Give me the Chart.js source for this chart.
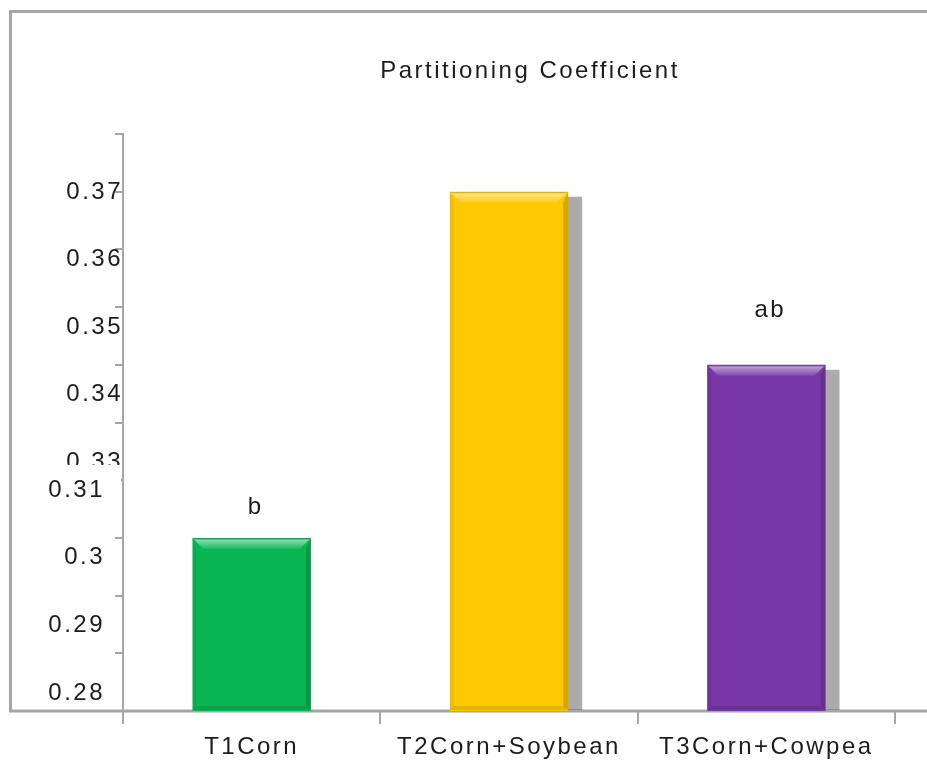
<!DOCTYPE html>
<html>
<head>
<meta charset="utf-8">
<script src="https://cdn.jsdelivr.net/npm/chart.js@4.4.1/dist/chart.umd.min.js"></script>
<style>
  html, body { margin: 0; padding: 0; background: #fff; }
  canvas { display: block; }
</style>
</head>
<body>
<canvas id="chart" width="927" height="767"></canvas>
<script>
// ---- data ----
const categories = ['T1Corn', 'T2Corn+Soybean', 'T3Corn+Cowpea'];
const coefficient = [0.31, 0.37, 0.34];
const groupLetters = ['b', '', 'ab'];
const upperTickLabels = [0.37, 0.36, 0.35, 0.34, 0.33];
const lowerTickLabels = [0.31, 0.3, 0.29, 0.28];
const chartTitle = 'Partitioning Coefficient';

// ---- styling ----
const barColors = ['#08b654', '#ffc800', '#7838a8'];
const castsShadow = [false, true, true];
const letterLift = [31, 0, 54];
const lineGray = '#a6a6a6';
const textColor = '#1c1c1c';
const FONT = '"Liberation Sans", Arial, sans-serif';
const FONT_SIZE = 24;
const SPACING = '2.5px';
const UPPER_LABEL_X = 123;
const LOWER_LABEL_X = 105;

Chart.defaults.font.family = FONT;
Chart.defaults.font.size = FONT_SIZE;
Chart.defaults.color = textColor;

// wide letter spacing for every piece of canvas text
const spacingPlugin = {
  id: 'spacing',
  beforeUpdate(chart) { chart.ctx.letterSpacing = SPACING; },
  beforeDraw(chart) { chart.ctx.letterSpacing = SPACING; }
};

// white page, outer frame and title
const framePlugin = {
  id: 'frame',
  beforeDraw(chart) {
    const { ctx, width, chartArea } = chart;
    ctx.save();
    ctx.fillStyle = '#fff';
    ctx.fillRect(0, 0, width, chart.height);
    ctx.strokeStyle = lineGray;
    ctx.lineWidth = 3;
    ctx.beginPath();
    ctx.moveTo(width + 5, 11.5);
    ctx.lineTo(10.5, 11.5);
    ctx.lineTo(10.5, chartArea.bottom);
    ctx.lineTo(width + 5, chartArea.bottom);
    ctx.stroke();
    ctx.restore();
  },
  afterDraw(chart) {
    const { ctx } = chart;
    ctx.save();
    ctx.letterSpacing = SPACING;
    ctx.font = FONT_SIZE + 'px ' + FONT;
    ctx.fillStyle = textColor;
    ctx.textAlign = 'center';
    ctx.textBaseline = 'middle';
    ctx.fillText(chartTitle, 530, 71);
    ctx.restore();
  }
};

// value labels of the two left label columns, placed through their scales
const axisLabelPlugin = {
  id: 'axisLabels',
  beforeDatasetsDraw(chart) {
    const { ctx } = chart;
    const up = chart.scales.yUpper, lo = chart.scales.yLower;
    ctx.save();
    ctx.letterSpacing = SPACING;
    ctx.font = FONT_SIZE + 'px ' + FONT;
    ctx.textAlign = 'right';
    ctx.textBaseline = 'middle';
    ctx.fillStyle = textColor;
    upperTickLabels.forEach(v => ctx.fillText(String(v), UPPER_LABEL_X, up.getPixelForValue(v)));
    // the lower column sits on a white block that overlaps the upper one
    const y0 = lo.getPixelForValue(lowerTickLabels[0]);
    ctx.fillStyle = '#fff';
    ctx.fillRect(LOWER_LABEL_X - 66, y0 - 25, 82, 37);
    ctx.fillStyle = textColor;
    lowerTickLabels.forEach(v => ctx.fillText(String(v), LOWER_LABEL_X, lo.getPixelForValue(v)));
    ctx.restore();
  }
};

// drop shadows behind the bars, bevel facets on top of them, group letters
const barDecor = {
  id: 'barDecor',
  beforeDatasetsDraw(chart) {
    const { ctx, chartArea } = chart;
    const bars = chart.getDatasetMeta(0).data;
    ctx.save();
    ctx.fillStyle = 'rgba(0,0,0,0.33)';
    bars.forEach((bar, i) => {
      if (!castsShadow[i]) return;
      const { x, y, base, width } = bar.getProps(['x', 'y', 'base', 'width'], true);
      const B = Math.min(base, chartArea.bottom) - 1;
      ctx.fillRect(x - width / 2 + 14, y + 5, width, B - y - 5);
    });
    ctx.restore();
  },
  afterDatasetsDraw(chart) {
    const { ctx, chartArea } = chart;
    const bars = chart.getDatasetMeta(0).data;
    bars.forEach((bar, i) => {
      const { x, y, base, width } = bar.getProps(['x', 'y', 'base', 'width'], true);
      const L = x - width / 2, R = x + width / 2, T = y, B = Math.min(base, chartArea.bottom) - 1;
      const b = 11, s = 5;
      ctx.save();
      // top facet
      const gTop = ctx.createLinearGradient(0, T, 0, T + b);
      gTop.addColorStop(0, 'rgba(0,0,0,0.06)');
      gTop.addColorStop(0.18, 'rgba(255,255,255,0.5)');
      gTop.addColorStop(1, 'rgba(255,255,255,0.08)');
      ctx.fillStyle = gTop;
      ctx.beginPath();
      ctx.moveTo(L, T); ctx.lineTo(R, T); ctx.lineTo(R - b, T + b); ctx.lineTo(L + b, T + b);
      ctx.closePath(); ctx.fill();
      // right facet
      ctx.fillStyle = 'rgba(0,0,0,0.16)';
      ctx.beginPath();
      ctx.moveTo(R, T); ctx.lineTo(R, B); ctx.lineTo(R - s, B - 4); ctx.lineTo(R - s, T + b);
      ctx.closePath(); ctx.fill();
      // left facet
      ctx.fillStyle = 'rgba(0,0,0,0.06)';
      ctx.beginPath();
      ctx.moveTo(L, T); ctx.lineTo(L + 4, T + b); ctx.lineTo(L + 4, B - 4); ctx.lineTo(L, B);
      ctx.closePath(); ctx.fill();
      // bottom facet
      ctx.fillStyle = 'rgba(0,0,0,0.10)';
      ctx.beginPath();
      ctx.moveTo(L, B); ctx.lineTo(L + 4, B - 4); ctx.lineTo(R - s, B - 4); ctx.lineTo(R, B);
      ctx.closePath(); ctx.fill();
      ctx.restore();

      if (groupLetters[i]) {
        ctx.save();
        ctx.letterSpacing = SPACING;
        ctx.font = FONT_SIZE + 'px ' + FONT;
        ctx.fillStyle = textColor;
        ctx.textAlign = 'center';
        ctx.textBaseline = 'middle';
        ctx.fillText(groupLetters[i], x + 4, y - letterLift[i]);
        ctx.restore();
      }
    });
  }
};

const zeroWidth = s => { s.width = 0; };

new Chart(document.getElementById('chart'), {
  type: 'bar',
  data: {
    labels: categories,
    datasets: [{
      data: coefficient,
      backgroundColor: barColors,
      borderWidth: 0,
      barPercentage: 0.46,
      categoryPercentage: 1
    }]
  },
  options: {
    responsive: false,
    animation: false,
    events: [],
    layout: { padding: { left: 123, right: 32, top: 134, bottom: 0 } },
    plugins: {
      legend: { display: false },
      title: { display: false },
      tooltip: { enabled: false }
    },
    scales: {
      x: {
        type: 'category',
        grid: { drawOnChartArea: false, drawTicks: true, tickLength: 13, color: lineGray, lineWidth: 2, offset: true },
        border: { color: lineGray, width: 2 },
        ticks: { padding: 9, maxRotation: 0, autoSkip: false },
        afterFit: s => { s.height = 56; }
      },
      y: {
        position: 'left',
        min: 0.28,
        max: 0.38,
        z: 1,
        ticks: { stepSize: 0.01, display: false },
        grid: { drawOnChartArea: false, drawTicks: true, tickLength: 8, color: lineGray, lineWidth: 2 },
        border: { color: lineGray, width: 2 },
        afterFit: zeroWidth
      },
      // label columns: their own value-to-pixel mapping, drawn by axisLabelPlugin
      yUpper: { type: 'linear', position: 'left', display: false, min: 0.29311, max: 0.37859 },
      yLower: { type: 'linear', position: 'left', display: false, min: 0.27734, max: 0.36257 }
    }
  },
  plugins: [spacingPlugin, framePlugin, axisLabelPlugin, barDecor]
});
</script>
</body>
</html>
